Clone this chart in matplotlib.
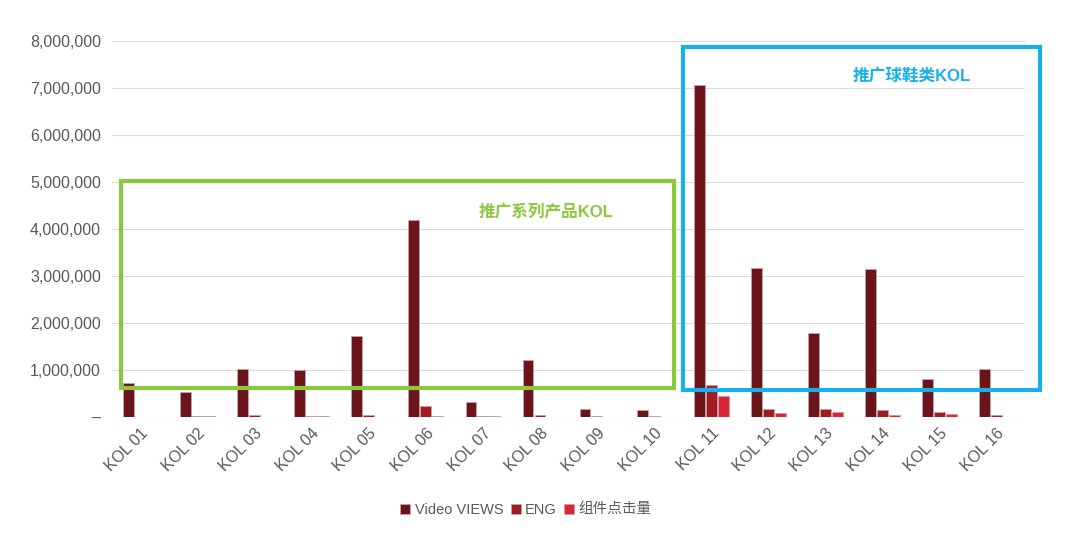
import numpy as np
import matplotlib.pyplot as plt
from matplotlib.patches import Rectangle
from matplotlib.ticker import FuncFormatter

plt.rcParams['font.family'] = ['Liberation Sans', 'Noto Sans CJK SC', 'DejaVu Sans']

kols = ['KOL 01', 'KOL 02', 'KOL 03', 'KOL 04', 'KOL 05', 'KOL 06', 'KOL 07', 'KOL 08',
        'KOL 09', 'KOL 10', 'KOL 11', 'KOL 12', 'KOL 13', 'KOL 14', 'KOL 15', 'KOL 16']
views = [720000, 530000, 1020000, 1000000, 1720000, 4190000, 320000, 1210000,
         170000, 150000, 7060000, 3170000, 1790000, 3150000, 810000, 1020000]
eng = [0, 20000, 45000, 20000, 45000, 230000, 15000, 40000,
       15000, 15000, 680000, 170000, 170000, 150000, 110000, 40000]
clicks = [0, 20000, 0, 20000, 0, 15000, 15000, 0,
          0, 0, 450000, 85000, 100000, 40000, 70000, 0]

series_names = ['Video VIEWS', 'ENG', '组件点击量']
colors = ['#6B1419', '#A01C25', '#D92637']

fig = plt.figure(figsize=(10.8, 5.34), dpi=100)
ax = fig.add_axes([0.1037, 0.219, 0.8454, 0.704])

x = np.arange(len(kols))
w = 0.19
step = 0.21
for i, (vals, c, name) in enumerate(zip([views, eng, clicks], colors, series_names)):
    ax.bar(x + (i - 1) * step, vals, width=w, color=c, edgecolor='#C9A0A3',
           linewidth=0.6, label=name, zorder=3)

ax.set_xlim(-0.5, len(kols) - 0.5)
ax.set_ylim(0, 8000000)
ax.set_yticks(np.arange(0, 8000001, 1000000))
ax.yaxis.set_major_formatter(FuncFormatter(lambda v, p: '–' if v == 0 else '{:,.0f}'.format(v)))
ax.grid(axis='y', color='#DCDCDC', linewidth=0.8, zorder=0)
for s in ax.spines.values():
    s.set_visible(False)
ax.tick_params(axis='both', length=0, colors='#595959', labelsize=11.5)
ax.tick_params(axis='y', pad=8)

ax.set_xticks(x)
ax.set_xticklabels(kols, rotation=45, ha='right', rotation_mode='anchor')
ax.tick_params(axis='x', pad=6)

# annotation boxes
green = '#8CC83F'
blue = '#17B0EA'
ax.add_patch(Rectangle((-0.35, 620000), 9.69, 4400000, fill=False, edgecolor=green,
                       linewidth=3, zorder=5, clip_on=False))
ax.text(7.11, 4360000, '推广系列产品KOL', color=green, fontsize=12, fontweight='bold',
        ha='center', va='center', zorder=6)
ax.add_patch(Rectangle((9.5, 570000), 6.27, 7300000, fill=False, edgecolor=blue,
                       linewidth=3, zorder=5, clip_on=False))
ax.text(13.51, 7260000, '推广球鞋类KOL', color=blue, fontsize=12, fontweight='bold',
        ha='center', va='center', zorder=6)

fig.legend(loc='center', bbox_to_anchor=(526 / 1080, 1 - 510 / 534), ncol=3, frameon=False,
           handlelength=0.7, handleheight=0.7, handletextpad=0.3, columnspacing=0.5,
           fontsize=10.5, labelcolor='#595959')

fig.savefig('out.png', dpi=100)
